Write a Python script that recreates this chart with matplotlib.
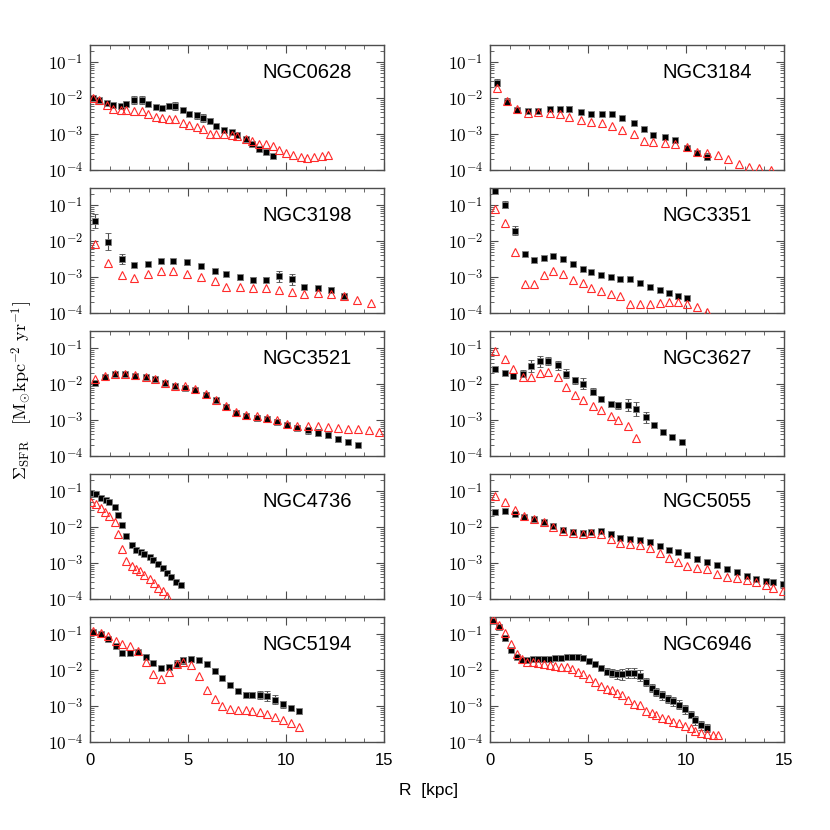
import numpy as np
import matplotlib
matplotlib.use('Agg')
import matplotlib.pyplot as plt
from matplotlib.ticker import FixedLocator, FixedFormatter, LogLocator, NullFormatter, MultipleLocator

plt.rcParams['mathtext.fontset'] = 'cm'
plt.rcParams['font.family'] = ['Liberation Sans', 'DejaVu Sans']

# radii in kpc, surface densities as log10(Sigma_SFR), errors in dex
# filled squares (with error bars) and open triangles per galaxy

ngc0628_r_sq = [0.17, 0.46, 0.85, 1.17, 1.56, 1.85, 2.24, 2.67, 2.96, 3.35, 3.66, 4.03, 4.34, 4.74,
                5.05, 5.44, 5.77, 6.12, 6.45, 6.84, 7.23, 7.52, 7.94, 8.28, 8.62, 8.96, 9.35]
ngc0628_lg_sq = [-2.00, -2.06, -2.13, -2.20, -2.22, -2.15, -2.06, -2.06, -2.15, -2.26, -2.27, -2.22, -2.22, -2.33,
                 -2.43, -2.48, -2.55, -2.64, -2.78, -2.89, -2.94, -3.03, -3.13, -3.28, -3.41, -3.51, -3.61]
ngc0628_e_sq = [0.04, 0.04, 0.04, 0.04, 0.04, 0.06, 0.11, 0.11, 0.06, 0.05, 0.06, 0.09, 0.10, 0.06,
                0.05, 0.10, 0.12, 0.08, 0.05, 0.05, 0.06, 0.06, 0.06, 0.05, 0.05, 0.04, 0.04]
ngc0628_r_tri = ngc0628_r_sq + [9.64, 10.02, 10.36, 10.75, 11.05, 11.43, 11.82, 12.14]
ngc0628_lg_tri = [-1.99, -2.06, -2.18, -2.31, -2.34, -2.34, -2.35, -2.36, -2.44, -2.53, -2.55, -2.57, -2.59, -2.69,
                  -2.75, -2.81, -2.87, -2.99, -2.99, -3.00, -3.03, -3.05, -3.13, -3.19, -3.28, -3.28, -3.33,
                  -3.43, -3.54, -3.59, -3.64, -3.66, -3.64, -3.61, -3.58]

ngc3184_r_sq = [0.34, 0.85, 1.36, 1.96, 2.47, 3.06, 3.57, 4.05, 4.63, 5.14, 5.73, 6.24, 6.75, 7.36,
                7.86, 8.33, 8.95, 9.44, 10.03, 10.54, 11.05]
ngc3184_lg_sq = [-1.57, -2.10, -2.33, -2.36, -2.35, -2.31, -2.31, -2.31, -2.39, -2.43, -2.45, -2.44, -2.55, -2.70,
                 -2.87, -3.03, -3.09, -3.17, -3.38, -3.54, -3.63]
ngc3184_e_sq = [0.10, 0.10, 0.05, 0.05, 0.05, 0.05, 0.07, 0.08, 0.05, 0.04, 0.04, 0.06, 0.05, 0.04,
                0.04, 0.05, 0.05, 0.06, 0.05, 0.08, 0.09]
ngc3184_r_tri = ngc3184_r_sq + [11.62, 12.13, 12.70, 13.23, 13.74, 14.32]
ngc3184_lg_tri = [-1.73, -2.08, -2.31, -2.41, -2.39, -2.40, -2.45, -2.53, -2.62, -2.66, -2.70, -2.78, -2.89, -3.00,
                  -3.19, -3.23, -3.26, -3.29, -3.36, -3.51, -3.52, -3.59, -3.69, -3.83, -3.93, -3.95, -3.99]

ngc3198_r_sq = [0.26, 0.94, 1.65, 2.24, 2.96, 3.64, 4.25, 4.97, 5.65, 6.36, 6.96, 7.64, 8.33, 8.96,
                9.64, 10.32, 10.92, 11.65, 12.31, 12.96]
ngc3198_lg_sq = [-1.44, -2.01, -2.50, -2.67, -2.64, -2.56, -2.55, -2.59, -2.69, -2.84, -2.91, -3.01, -3.07, -3.08,
                 -2.98, -3.06, -3.28, -3.31, -3.35, -3.54]
ngc3198_e_sq = [0.20, 0.25, 0.13, 0.04, 0.05, 0.05, 0.06, 0.06, 0.05, 0.04, 0.04, 0.06, 0.06, 0.07,
                0.16, 0.15, 0.06, 0.05, 0.06, 0.05]
ngc3198_r_tri = ngc3198_r_sq + [13.64, 14.32]
ngc3198_lg_tri = [-2.08, -2.61, -2.95, -3.03, -2.91, -2.82, -2.83, -2.91, -3.01, -3.12, -3.27, -3.29, -3.31, -3.31,
                  -3.35, -3.42, -3.47, -3.45, -3.46, -3.54, -3.65, -3.72]

ngc3351_r_sq = [0.26, 0.77, 1.28, 1.79, 2.26, 2.76, 3.23, 3.74, 4.25, 4.73, 5.14, 5.65, 6.16, 6.63,
                7.14, 7.65, 8.16, 8.67, 9.15, 9.57, 10.07]
ngc3351_lg_sq = [-0.59, -0.99, -1.71, -2.35, -2.52, -2.48, -2.42, -2.49, -2.64, -2.77, -2.87, -2.94, -3.01, -3.04,
                 -3.06, -3.17, -3.29, -3.37, -3.44, -3.52, -3.59]
ngc3351_e_sq = [0.07, 0.10, 0.12, 0.06, 0.04, 0.04, 0.04, 0.04, 0.04, 0.04, 0.04, 0.04, 0.04, 0.04,
                0.04, 0.05, 0.04, 0.04, 0.04, 0.05, 0.06]
ngc3351_r_tri = ngc3351_r_sq + [10.54, 11.05]
ngc3351_lg_tri = [-1.11, -1.50, -2.29, -3.19, -3.19, -2.95, -2.84, -2.91, -3.07, -3.17, -3.31, -3.38, -3.46, -3.54,
                  -3.75, -3.75, -3.75, -3.72, -3.70, -3.70, -3.74, -3.83, -3.97]

ngc3521_r_sq = [0.26, 0.75, 1.26, 1.77, 2.28, 2.84, 3.32, 3.83, 4.34, 4.85, 5.36, 5.94, 6.45, 6.96,
                7.47, 7.98, 8.50, 9.01, 9.52, 10.03, 10.54, 11.12, 11.65, 12.16, 12.65, 13.18, 13.67]
ngc3521_lg_sq = [-1.98, -1.81, -1.73, -1.73, -1.76, -1.81, -1.87, -1.98, -2.06, -2.10, -2.15, -2.29, -2.45, -2.63,
                 -2.80, -2.89, -2.94, -2.96, -3.05, -3.14, -3.21, -3.29, -3.35, -3.42, -3.52, -3.60, -3.68]
ngc3521_e_sq = [0.05, 0.04, 0.04, 0.04, 0.04, 0.04, 0.04, 0.05, 0.04, 0.05, 0.04, 0.07, 0.07, 0.07,
                0.07, 0.08, 0.08, 0.07, 0.07, 0.06, 0.06, 0.10, 0.10, 0.08, 0.08, 0.06, 0.05]
ngc3521_r_tri = ngc3521_r_sq + [14.23, 14.74]
ngc3521_lg_tri = [-1.87, -1.78, -1.71, -1.71, -1.74, -1.80, -1.85, -1.96, -2.04, -2.06, -2.14, -2.27, -2.43, -2.61,
                  -2.78, -2.87, -2.90, -2.94, -3.01, -3.12, -3.17, -3.17, -3.17, -3.19, -3.21, -3.24, -3.26,
                  -3.28, -3.33]

ngc3627_r_sq = [0.26, 0.77, 1.16, 1.67, 2.07, 2.55, 2.98, 3.45, 3.88, 4.34, 4.76, 5.24, 5.65, 6.16,
                6.55, 7.06, 7.45, 7.94, 8.37, 8.84, 9.27, 9.78]
ngc3627_lg_sq = [-1.59, -1.69, -1.78, -1.71, -1.50, -1.36, -1.36, -1.48, -1.71, -1.89, -1.99, -2.21, -2.41, -2.56,
                 -2.59, -2.59, -2.70, -2.92, -3.15, -3.32, -3.46, -3.61]
ngc3627_e_sq = [0.05, 0.04, 0.04, 0.10, 0.17, 0.15, 0.12, 0.12, 0.12, 0.10, 0.15, 0.10, 0.07, 0.07,
                0.10, 0.17, 0.20, 0.15, 0.08, 0.05, 0.05, 0.04]
ngc3627_r_tri = ngc3627_r_sq[:17]
ngc3627_lg_tri = [-1.08, -1.29, -1.57, -1.80, -1.80, -1.69, -1.66, -1.80, -2.07, -2.31, -2.45, -2.61, -2.72, -2.89,
                  -3.00, -3.17, -3.49]

ngc4736_r_sq = [0.03, 0.29, 0.58, 0.80, 0.97, 1.28, 1.45, 1.65, 1.85, 2.16, 2.36, 2.59, 2.76, 3.04,
                3.21, 3.47, 3.74, 3.95, 4.15, 4.37, 4.66]
ngc4736_lg_sq = [-1.04, -1.09, -1.18, -1.24, -1.31, -1.45, -1.66, -1.94, -2.24, -2.50, -2.63, -2.69, -2.75, -2.84,
                 -2.91, -3.03, -3.15, -3.28, -3.40, -3.52, -3.61]
ngc4736_e_sq = [0.04, 0.04, 0.04, 0.04, 0.04, 0.06, 0.06, 0.05, 0.05, 0.04, 0.04, 0.04, 0.05, 0.06,
                0.07, 0.06, 0.06, 0.05, 0.05, 0.05, 0.04]
ngc4736_r_tri = [0.03, 0.29, 0.54, 0.75, 0.97, 1.26, 1.45, 1.65, 1.85, 2.13, 2.36, 2.55, 2.76, 3.04,
                 3.27, 3.47, 3.74, 3.95]
ngc4736_lg_tri = [-1.29, -1.36, -1.47, -1.57, -1.69, -1.87, -2.19, -2.61, -2.95, -3.07, -3.17, -3.23, -3.32, -3.44,
                  -3.56, -3.69, -3.79, -3.93]

ngc5055_r_sq = [0.26, 0.77, 1.28, 1.75, 2.24, 2.76, 3.23, 3.74, 4.25, 4.73, 5.14, 5.65, 6.16, 6.63,
                7.14, 7.65, 8.16, 8.67, 9.15, 9.57, 10.07, 10.54, 11.05, 11.56, 12.07, 12.59, 13.10, 13.57,
                14.08, 14.46, 14.93]
ngc5055_lg_sq = [-1.59, -1.56, -1.62, -1.71, -1.78, -1.85, -1.98, -2.08, -2.13, -2.15, -2.13, -2.12, -2.18, -2.29,
                 -2.33, -2.36, -2.41, -2.52, -2.63, -2.69, -2.78, -2.89, -2.98, -3.06, -3.17, -3.26, -3.35, -3.43,
                 -3.49, -3.54, -3.58]
ngc5055_e_sq = [0.05, 0.04, 0.04, 0.04, 0.04, 0.04, 0.04, 0.04, 0.04, 0.04, 0.04, 0.06, 0.06, 0.06,
                0.06, 0.07, 0.07, 0.05, 0.05, 0.07, 0.08, 0.08, 0.07, 0.06, 0.05, 0.05, 0.05, 0.05,
                0.06, 0.06, 0.06]
ngc5055_r_tri = ngc5055_r_sq
ngc5055_lg_tri = [-1.13, -1.31, -1.52, -1.70, -1.78, -1.85, -1.99, -2.11, -2.17, -2.18, -2.15, -2.19, -2.33, -2.43,
                  -2.47, -2.50, -2.57, -2.73, -2.87, -2.98, -3.09, -3.14, -3.17, -3.31, -3.38, -3.42, -3.47, -3.54,
                  -3.61, -3.68, -3.77]

ngc5194_r_sq = [0.17, 0.54, 0.94, 1.34, 1.65, 2.04, 2.45, 2.84, 3.23, 3.64, 4.03, 4.46, 4.76, 5.17,
                5.56, 5.95, 6.36, 6.75, 7.14, 7.55, 7.94, 8.25, 8.66, 9.05, 9.44, 9.85, 10.24, 10.66]
ngc5194_lg_sq = [-0.94, -0.99, -1.13, -1.33, -1.53, -1.52, -1.50, -1.62, -1.80, -1.94, -1.92, -1.82, -1.73, -1.69,
                 -1.73, -1.84, -2.01, -2.22, -2.41, -2.59, -2.69, -2.69, -2.69, -2.72, -2.82, -2.95, -3.06, -3.15]
ngc5194_e_sq = [0.05, 0.04, 0.05, 0.06, 0.04, 0.05, 0.04, 0.06, 0.05, 0.05, 0.07, 0.10, 0.10, 0.08,
                0.05, 0.06, 0.06, 0.05, 0.04, 0.05, 0.07, 0.08, 0.10, 0.15, 0.12, 0.10, 0.07, 0.06]
ngc5194_r_tri = ngc5194_r_sq
ngc5194_lg_tri = [-0.92, -0.97, -1.04, -1.18, -1.27, -1.33, -1.48, -1.76, -2.10, -2.24, -2.06, -1.84, -1.76, -1.87,
                  -2.15, -2.55, -2.81, -3.00, -3.08, -3.10, -3.12, -3.15, -3.17, -3.22, -3.31, -3.40, -3.47, -3.58]

ngc6946_r_sq = [0.17, 0.46, 0.77, 1.05, 1.36, 1.65, 1.90, 2.18, 2.47, 2.76, 3.06, 3.32, 3.62, 3.91,
                4.17, 4.47, 4.76, 5.07, 5.36, 5.65, 5.95, 6.21, 6.46, 6.75, 7.06, 7.36, 7.65, 7.96,
                8.25, 8.47, 8.76, 9.06, 9.35, 9.66, 9.95, 10.24, 10.46, 10.75, 11.05]
ngc6946_lg_sq = [-0.64, -0.81, -1.10, -1.43, -1.64, -1.71, -1.71, -1.69, -1.69, -1.69, -1.69, -1.67, -1.66, -1.64,
                 -1.62, -1.62, -1.66, -1.75, -1.84, -1.94, -2.04, -2.08, -2.12, -2.12, -2.08, -2.08, -2.15, -2.33,
                 -2.50, -2.61, -2.70, -2.80, -2.87, -2.96, -3.09, -3.24, -3.40, -3.54, -3.61]
ngc6946_e_sq = [0.06, 0.06, 0.08, 0.06, 0.04, 0.04, 0.05, 0.05, 0.05, 0.05, 0.05, 0.05, 0.06, 0.07,
                0.08, 0.08, 0.07, 0.07, 0.08, 0.08, 0.10, 0.12, 0.13, 0.15, 0.15, 0.15, 0.15, 0.12,
                0.12, 0.12, 0.12, 0.12, 0.12, 0.12, 0.12, 0.10, 0.12, 0.12, 0.12]
ngc6946_r_tri = ngc6946_r_sq + [11.36, 11.65]
ngc6946_lg_tri = [-0.57, -0.74, -0.96, -1.27, -1.55, -1.69, -1.76, -1.78, -1.80, -1.82, -1.85, -1.89, -1.92, -1.92,
                  -1.96, -2.04, -2.10, -2.22, -2.33, -2.43, -2.52, -2.56, -2.64, -2.70, -2.84, -2.94, -2.98, -3.15,
                  -3.19, -3.24, -3.33, -3.37, -3.43, -3.47, -3.56, -3.61, -3.68, -3.74, -3.78, -3.80, -3.80]

panels = [
    ('NGC0628', ngc0628_r_sq, ngc0628_lg_sq, ngc0628_e_sq, ngc0628_r_tri, ngc0628_lg_tri),
    ('NGC3184', ngc3184_r_sq, ngc3184_lg_sq, ngc3184_e_sq, ngc3184_r_tri, ngc3184_lg_tri),
    ('NGC3198', ngc3198_r_sq, ngc3198_lg_sq, ngc3198_e_sq, ngc3198_r_tri, ngc3198_lg_tri),
    ('NGC3351', ngc3351_r_sq, ngc3351_lg_sq, ngc3351_e_sq, ngc3351_r_tri, ngc3351_lg_tri),
    ('NGC3521', ngc3521_r_sq, ngc3521_lg_sq, ngc3521_e_sq, ngc3521_r_tri, ngc3521_lg_tri),
    ('NGC3627', ngc3627_r_sq, ngc3627_lg_sq, ngc3627_e_sq, ngc3627_r_tri, ngc3627_lg_tri),
    ('NGC4736', ngc4736_r_sq, ngc4736_lg_sq, ngc4736_e_sq, ngc4736_r_tri, ngc4736_lg_tri),
    ('NGC5055', ngc5055_r_sq, ngc5055_lg_sq, ngc5055_e_sq, ngc5055_r_tri, ngc5055_lg_tri),
    ('NGC5194', ngc5194_r_sq, ngc5194_lg_sq, ngc5194_e_sq, ngc5194_r_tri, ngc5194_lg_tri),
    ('NGC6946', ngc6946_r_sq, ngc6946_lg_sq, ngc6946_e_sq, ngc6946_r_tri, ngc6946_lg_tri),
]

yticks = [1e-4, 1e-3, 1e-2, 1e-1]
ytick_labels = [r'$10^{-4}$', r'$10^{-3}$', r'$10^{-2}$', r'$10^{-1}$']
frame_col = '0.3'

fig = plt.figure(figsize=(8.3, 8.3), dpi=100)

for i, (name, r_sq, lg_sq, e_sq, r_tri, lg_tri) in enumerate(panels):
    row, col = i // 2, i % 2
    left = 90 / 830 if col == 0 else 490 / 830
    bottom = 1 - (170 + 143 * row) / 830
    ax = fig.add_axes([left, bottom, 294 / 830, 125 / 830])

    y = 10 ** np.asarray(lg_sq)
    e = np.asarray(e_sq)
    yerr = [y - y * 10 ** (-e), y * 10 ** e - y]
    ax.errorbar(r_sq, y, yerr=yerr, fmt='s', color='black', ms=4.8, mec='0.5', mew=0.6,
                ecolor='0.3', elinewidth=0.8, capsize=2.2, capthick=0.8, zorder=2)
    ax.plot(r_tri, 10 ** np.asarray(lg_tri), '^', ms=5.3, mfc='none', mec='#ff2a2a', mew=0.8, zorder=3)

    ax.set_yscale('log')
    ax.set_xlim(0, 15)
    ax.set_ylim(1e-4, 10 ** -0.52)
    ax.yaxis.set_major_locator(FixedLocator(yticks))
    ax.yaxis.set_major_formatter(FixedFormatter(ytick_labels))
    ax.yaxis.set_minor_locator(LogLocator(base=10, subs=np.arange(2, 10), numticks=20))
    ax.yaxis.set_minor_formatter(NullFormatter())
    ax.xaxis.set_major_locator(MultipleLocator(5))
    ax.xaxis.set_minor_locator(MultipleLocator(1))
    ax.tick_params(which='both', direction='in', top=True, right=True, color=frame_col)
    ax.tick_params(which='major', length=6, width=0.8)
    ax.tick_params(which='minor', length=3, width=0.6)
    ax.tick_params(axis='y', labelsize=12.5, pad=5)
    ax.tick_params(axis='x', labelsize=12, pad=8)
    if row < 4:
        ax.set_xticklabels([])
    for sp in ax.spines.values():
        sp.set_color(frame_col)
        sp.set_linewidth(1.0)
    ax.text(0.89, 0.78, name, transform=ax.transAxes, ha='right', va='center', fontsize=14.5)

fig.text(0.027, 0.53, r'$\Sigma_{\rm SFR}\ \ \ [{\rm M}_{\odot}{\rm kpc}^{-2}\ {\rm yr}^{-1}]$',
         rotation=90, ha='center', va='center', fontsize=13)
fig.text(0.516, 0.048, 'R  [kpc]', ha='center', va='center', fontsize=12.5)

fig.savefig('out.png', dpi=100)
